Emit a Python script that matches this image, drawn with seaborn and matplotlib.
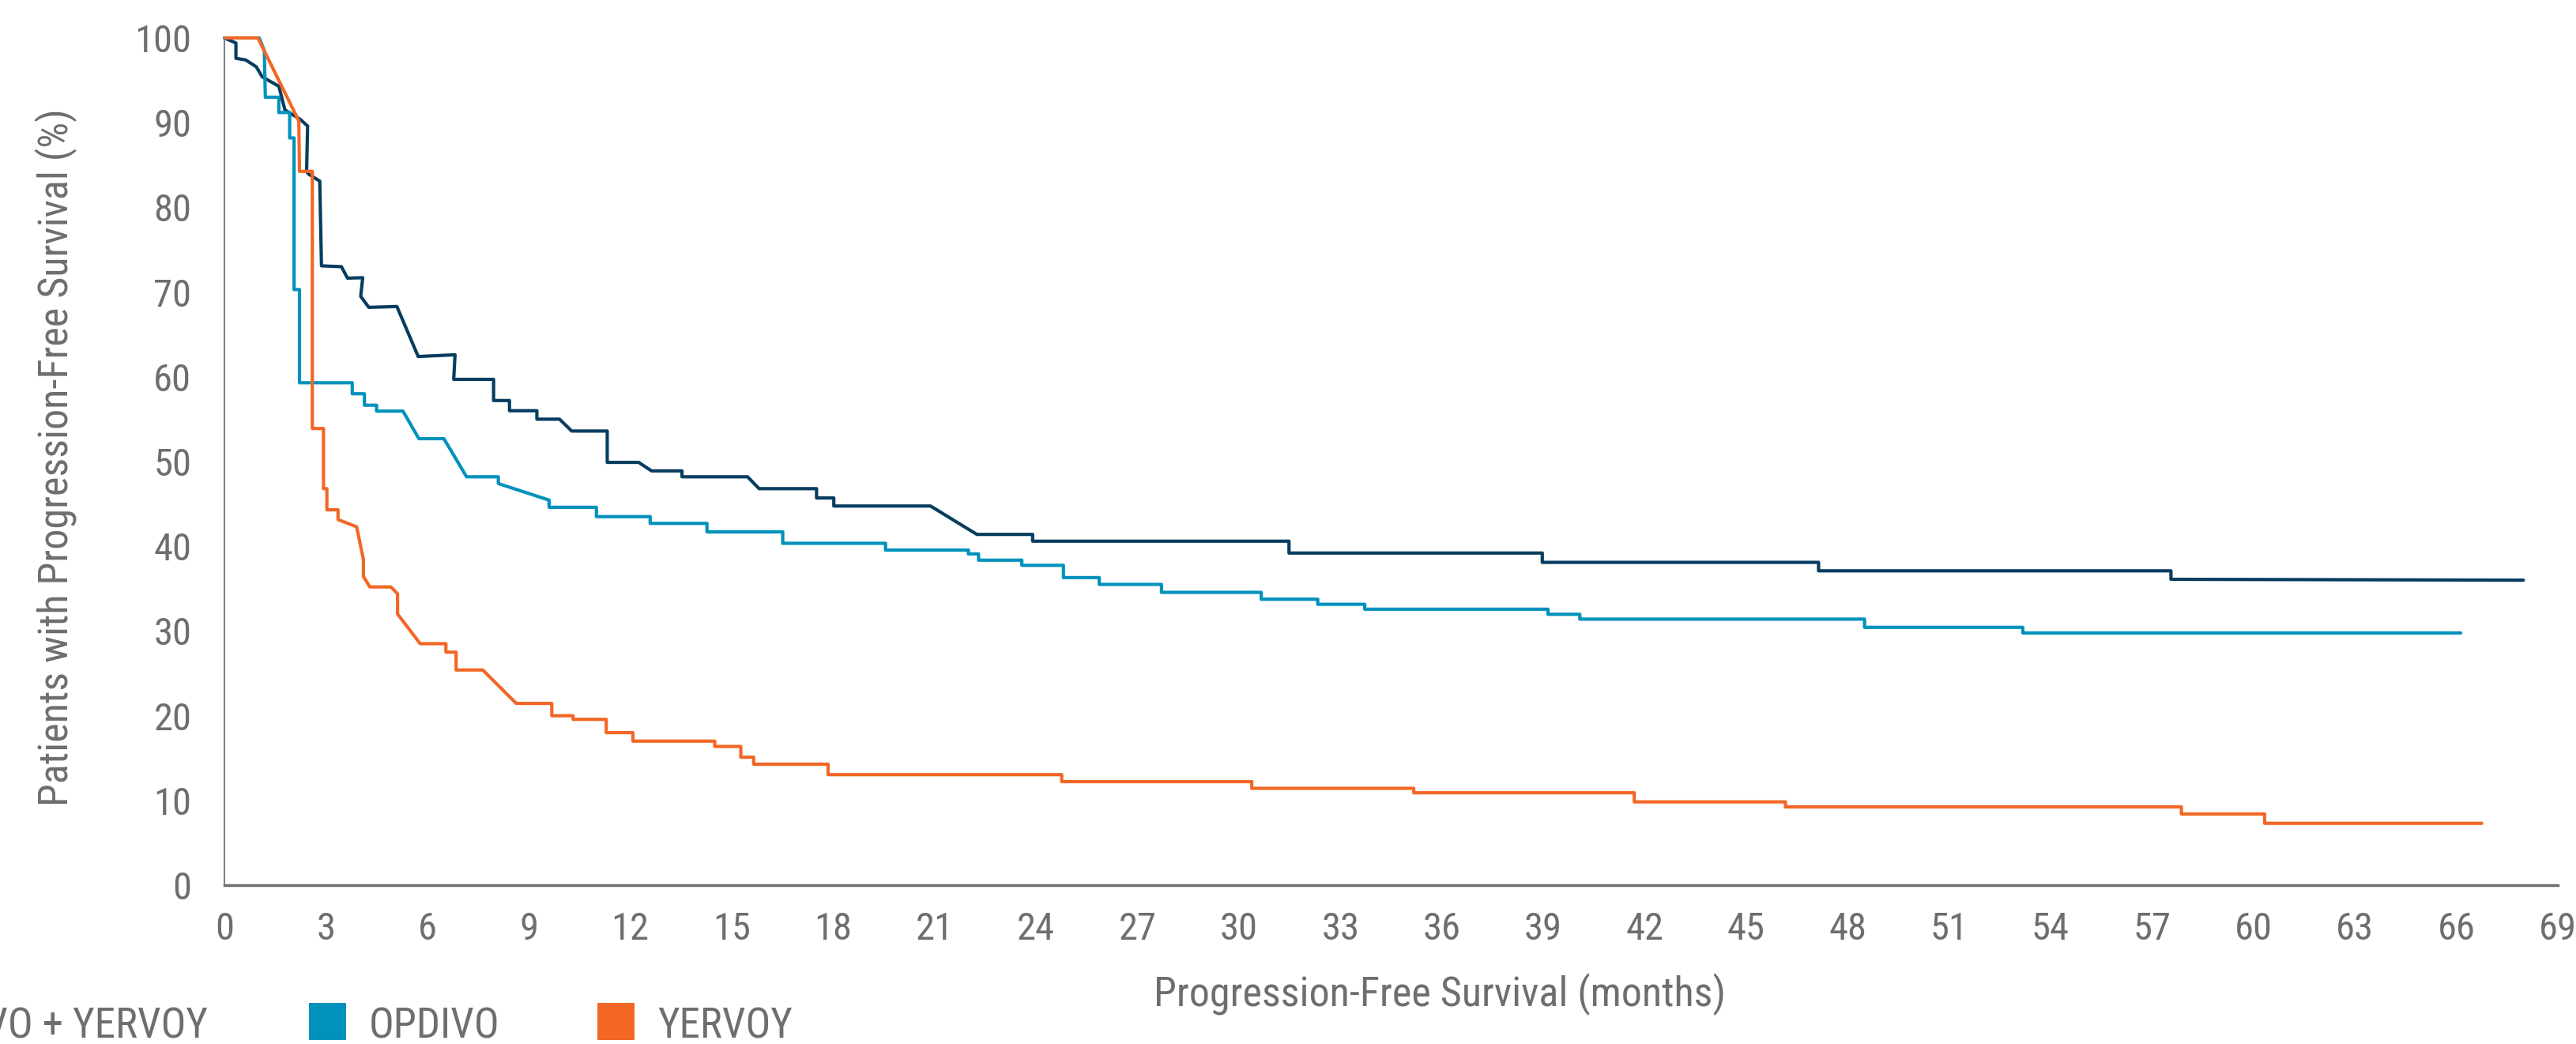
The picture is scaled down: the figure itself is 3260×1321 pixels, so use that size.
import matplotlib
matplotlib.use("Agg")
import matplotlib.pyplot as plt
from matplotlib import font_manager as fm
import seaborn as sns
import pandas as pd
from matplotlib.patches import Rectangle

# progression-free survival curves
combo_months = [0, 0.34, 0.34, 0.63, 0.94, 1.12, 1.61, 1.79, 2.24, 2.46, 2.43, 2.5, 2.82, 2.87,
                3.46, 3.64, 4.09, 4.03, 4.27, 5.10, 5.73, 6.82, 6.78, 7.96, 7.96, 8.43, 8.43,
                9.24, 9.24, 9.91, 10.27, 11.32, 11.32, 12.25, 12.63, 13.53, 13.53, 15.47, 15.81,
                17.51, 17.51, 18.02, 18.02, 20.88, 22.25, 23.9, 23.9, 31.48, 31.48, 38.97, 38.97,
                47.14, 47.14, 57.56, 57.56, 67.98]
combo_pct = [100, 99.4, 97.6, 97.4, 96.6, 95.4, 94.3, 91.5, 90.4, 89.6, 84.2, 83.9, 83.1, 73.1,
             73.0, 71.65, 71.7, 69.5, 68.2, 68.3, 62.4, 62.6, 59.7, 59.7, 57.2, 57.2, 56.0,
             56.0, 55.0, 55.0, 53.6, 53.6, 49.9, 49.9, 48.9, 48.9, 48.2, 48.2, 46.8,
             46.8, 45.7, 45.7, 44.75, 44.75, 41.4, 41.4, 40.6, 40.6, 39.2, 39.2, 38.1,
             38.1, 37.1, 37.1, 36.1, 36.0]

opdivo_months = [0, 1.03, 1.18, 1.21, 1.61, 1.61, 1.93, 1.93, 2.06, 2.06, 2.22, 2.22, 3.78, 3.78,
                 4.14, 4.14, 4.5, 4.5, 5.28, 5.75, 6.49, 7.16, 8.1, 8.1, 9.6, 9.6, 11.0, 11.0,
                 12.59, 12.59, 14.27, 14.27, 16.51, 16.51, 19.55, 19.55, 22.0, 22.0, 22.3, 22.3,
                 23.58, 23.58, 24.81, 24.81, 25.87, 25.87, 27.71, 27.71, 30.66, 30.66, 32.33, 32.33,
                 33.72, 33.72, 39.14, 39.14, 40.08, 40.08, 48.5, 48.5, 53.18, 53.18, 66.13]
opdivo_pct = [100, 100, 98.5, 93.0, 93.0, 91.2, 91.2, 88.2, 88.2, 70.3, 70.3, 59.3, 59.3, 58.0,
              58.0, 56.65, 56.65, 55.95, 55.95, 52.7, 52.7, 48.2, 48.2, 47.4, 45.45, 44.6, 44.6, 43.5,
              43.5, 42.7, 42.7, 41.7, 41.7, 40.35, 40.35, 39.55, 39.55, 39.1, 39.1, 38.36,
              38.36, 37.75, 37.75, 36.3, 36.3, 35.5, 35.5, 34.56, 34.56, 33.75, 33.75, 33.15,
              33.15, 32.57, 32.57, 31.97, 31.97, 31.4, 31.4, 30.43, 30.43, 29.77, 29.77]

yervoy_months = [0, 0.99, 2.2, 2.22, 2.6, 2.6, 2.93, 2.93, 3.03, 3.03, 3.36, 3.36, 3.91, 4.11,
                 4.11, 4.3, 4.92, 5.12, 5.12, 5.79, 6.55, 6.55, 6.85, 6.85, 7.64, 8.63, 9.68, 9.68,
                 10.31, 10.31, 11.29, 11.29, 12.08, 12.08, 14.5, 14.5, 15.27, 15.27, 15.65, 15.65,
                 17.85, 17.85, 24.76, 24.76, 30.38, 30.38, 35.17, 35.17, 41.69, 41.69, 46.16, 46.16,
                 57.87, 57.87, 60.33, 60.33, 66.75]
yervoy_pct = [100, 100, 90.2, 84.25, 84.25, 53.9, 53.9, 46.8, 46.8, 44.3, 44.3, 43.15, 42.3, 38.45,
              36.45, 35.2, 35.2, 34.4, 32.0, 28.5, 28.5, 27.5, 27.5, 25.4, 25.4, 21.45, 21.45, 20.0,
              20.0, 19.57, 19.57, 18.0, 18.0, 17.0, 17.0, 16.37, 16.37, 15.1, 15.1, 14.28,
              14.28, 13.04, 13.04, 12.22, 12.22, 11.43, 11.43, 10.9, 10.9, 9.83, 9.83, 9.24,
              9.24, 8.4, 8.4, 7.3, 7.3]

arms = ["OPDIVO + YERVOY", "OPDIVO", "YERVOY"]
colors = ["#073d5f", "#0092bc", "#f26725"]
x_ticks = list(range(0, 70, 3))
y_ticks = list(range(0, 101, 10))

frames = []
for arm, m, p in zip(arms, [combo_months, opdivo_months, yervoy_months],
                     [combo_pct, opdivo_pct, yervoy_pct]):
    frames.append(pd.DataFrame({"arm": arm, "month": m, "pct": p}))
df = pd.concat(frames, ignore_index=True)

sns.set_style("white")

# the original uses a condensed face, pick whatever narrow font is around
names = {f.name for f in fm.fontManager.ttflist}
styles = {(f.name, f.stretch) for f in fm.fontManager.ttflist}
family, stretch = "DejaVu Sans", "normal"
for cand in ["Roboto Condensed", "Liberation Sans Narrow", "Open Sans Condensed"]:
    if cand in names:
        family = cand
        break
else:
    for fam in ["Roboto", "Open Sans", "Noto Sans", "DejaVu Sans"]:
        if (fam, "condensed") in styles or (fam, "semi-condensed") in styles:
            family, stretch = fam, "condensed"
            break
plt.rcParams["font.family"] = [family, "DejaVu Sans"]
plt.rcParams["font.stretch"] = stretch
grey = "#6d6e71"

W, H = 3260, 1321
fig = plt.figure(figsize=(W / 100, H / 100), dpi=100)
ax = fig.add_axes([284 / W, 1 - 1120 / H, (3237 - 284) / W, (1120 - 48) / H])

sns.lineplot(data=df, x="month", y="pct", hue="arm", hue_order=arms,
             palette=dict(zip(arms, colors)), sort=False, estimator=None,
             linewidth=3.0, legend=False, ax=ax, clip_on=False)

ax.set_xlim(0, 69)
ax.set_ylim(0, 100)
ax.set_xticks(x_ticks)
ax.set_yticks(y_ticks)
ax.tick_params(axis="both", colors="#808285", labelcolor=grey, labelsize=35,
               length=16, width=1.5, direction="out")
ax.tick_params(axis="y", pad=14)
ax.tick_params(axis="x", pad=8)
for s in ["top", "right"]:
    ax.spines[s].set_visible(False)
ax.spines["left"].set_color("#808285")
ax.spines["left"].set_linewidth(1.5)
ax.spines["bottom"].set_color(grey)
ax.spines["bottom"].set_linewidth(2.5)

ax.set_xlabel("Progression-Free Survival (months)", fontsize=37.5, color=grey)
ax.set_ylabel("Patients with Progression-Free Survival (%)", fontsize=37.5, color=grey)
ax.xaxis.set_label_coords(0.5208, -0.104)
ax.yaxis.set_label_coords(-0.063, 0.505)

# legend along the bottom edge, first item runs off the left side
sq = 47
entries = [(None, "OPDIVO + YERVOY", colors[0], 263), (391, "OPDIVO", colors[1], None),
           (756, "YERVOY", colors[2], None)]
fig.canvas.draw()
rend = fig.canvas.get_renderer()
for x0, label, c, text_end in entries:
    if x0 is None:
        t = fig.text(text_end / W, 8 / H, label, fontsize=38, color=grey,
                     ha="right", va="baseline")
        bb = t.get_window_extent(rend)
        x0 = bb.x0 - 29 - sq
    else:
        fig.text((x0 + sq + 29) / W, 8 / H, label, fontsize=38, color=grey,
                 ha="left", va="baseline")
    fig.patches.append(Rectangle((x0 / W, 5 / H), sq / W, sq / H, transform=fig.transFigure,
                                 facecolor=c, edgecolor="none"))

fig.savefig("out.png", dpi=100)
